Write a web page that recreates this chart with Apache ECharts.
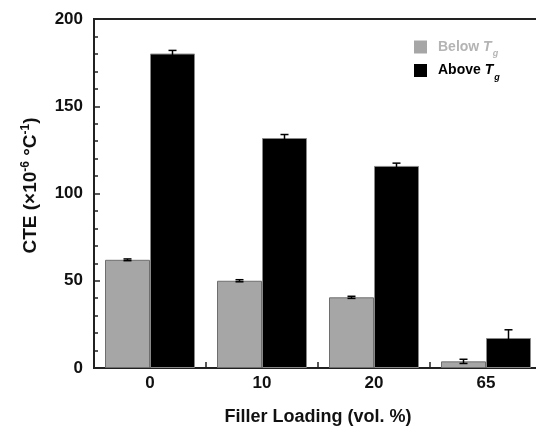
<!DOCTYPE html>
<html><head><meta charset="utf-8">
<script src="https://cdn.jsdelivr.net/npm/echarts@6/dist/echarts.min.js"></script>
<style>html,body{margin:0;padding:0;background:#fff;overflow:hidden;width:536px;height:431px}#c{width:550px;height:431px}</style>
</head><body><div id="c"></div>
<script>
const categories = ['0', '10', '20', '65'];
const belowTg = [62, 50, 40.5, 3.8];
const belowErr = [0.5, 0.6, 0.6, 1.2];
const aboveTg = [180.2, 131.8, 115.8, 17.2];
const aboveErr = [1.8, 2.0, 1.6, 4.7];
const seriesNames = ['Below Tg', 'Above Tg'];

const FONT = 'Liberation Sans, Arial, sans-serif';
const BAR_W = 45;

function errData(vals, errs) {
  return vals.map((v, i) => [i, v - errs[i], v + errs[i]]);
}
function errRender(side) {
  return function (params, api) {
    const i = api.value(0);
    const lo = api.coord([i, api.value(1)]);
    const hi = api.coord([i, api.value(2)]);
    const x = lo[0] + side * BAR_W / 2;
    const cap = 4;
    const st = { stroke: '#000', lineWidth: 1.5 };
    return { type: 'group', children: [
      { type: 'line', shape: { x1: x, y1: lo[1], x2: x, y2: hi[1] }, style: st },
      { type: 'line', shape: { x1: x - cap, y1: hi[1], x2: x + cap, y2: hi[1] }, style: st },
      { type: 'line', shape: { x1: x - cap, y1: lo[1], x2: x + cap, y2: lo[1] }, style: st }
    ]};
  };
}

const chart = echarts.init(document.getElementById('c'), null, { renderer: 'canvas' });
const sub = { fontWeight: 'bold', fontStyle: 'italic', fontSize: 9, fontFamily: FONT, padding: [14, 0, 0, 1] };
chart.setOption({
  animation: false,
  backgroundColor: '#fff',
  textStyle: { fontFamily: FONT },
  grid: { left: 94, top: 19, width: 448, height: 350, show: true, borderColor: '#222', borderWidth: 2, backgroundColor: 'transparent' },
  legend: {
    orient: 'vertical', left: 409, top: 35, itemWidth: 13, itemHeight: 13, itemGap: 5,
    icon: 'rect', selectedMode: false,
    itemStyle: { borderWidth: 0 },
    data: seriesNames,
    formatter: function (name) {
      return name === seriesNames[0] ? '{bl|Below }{bT|T}{bg|g}' : '{al|Above }{aT|T}{ag|g}';
    },
    textStyle: {
      padding: [0, 0, 0, 6],
      rich: {
        bl: { color: '#b4b4b4', fontWeight: 'bold', fontSize: 14, fontFamily: FONT },
        bT: { color: '#b4b4b4', fontWeight: 'bold', fontStyle: 'italic', fontSize: 14, fontFamily: FONT },
        bg: Object.assign({ color: '#b4b4b4' }, sub),
        al: { color: '#000', fontWeight: 'bold', fontSize: 14, fontFamily: FONT },
        aT: { color: '#000', fontWeight: 'bold', fontStyle: 'italic', fontSize: 14, fontFamily: FONT },
        ag: Object.assign({ color: '#000' }, sub)
      }
    }
  },
  xAxis: {
    type: 'category', data: categories,
    name: 'Filler Loading (vol. %)', nameLocation: 'middle', nameGap: 40,
    nameTextStyle: { fontSize: 18, fontWeight: 'bold', color: '#111', fontFamily: FONT },
    axisLine: { lineStyle: { color: '#222', width: 1.5 } },
    axisTick: { show: true, inside: true, length: 6, lineStyle: { color: '#222', width: 1.5 } },
    axisLabel: { fontSize: 17, fontWeight: 'bold', color: '#111', margin: 7, fontFamily: FONT },
    splitLine: { show: false }
  },
  yAxis: {
    type: 'value', min: 0, max: 200, interval: 50,
    name: 'CTE (×10{sup|-6} °C{sup|-1})', nameLocation: 'middle', nameGap: 53, nameRotate: 90,
    nameTextStyle: { fontSize: 19, fontWeight: 'bold', color: '#111', fontFamily: FONT, padding: [0, 0, 0, 16],
      rich: { sup: { fontSize: 12, fontWeight: 'bold', color: '#111', fontFamily: FONT, padding: [0, 0, 9, 0] } } },
    axisLine: { show: true, lineStyle: { color: '#222', width: 1.5 } },
    axisTick: { show: true, inside: true, length: 6, lineStyle: { color: '#222', width: 1.5 } },
    minorTick: { show: true, splitNumber: 5, length: 4, lineStyle: { color: '#222', width: 1.5 } },
    axisLabel: { fontSize: 17, fontWeight: 'bold', color: '#111', margin: 11, fontFamily: FONT },
    splitLine: { show: false }
  },
  series: [
    { name: seriesNames[0], type: 'bar', data: belowTg, barWidth: BAR_W, barGap: '0%',
      itemStyle: { color: '#a6a6a6', borderColor: '#6e6e6e', borderWidth: 1 } },
    { name: seriesNames[1], type: 'bar', data: aboveTg, barWidth: BAR_W, barGap: '0%',
      itemStyle: { color: '#000', borderColor: '#888', borderWidth: 1 } },
    { type: 'custom', renderItem: errRender(-1), data: errData(belowTg, belowErr), z: 5, silent: true },
    { type: 'custom', renderItem: errRender(1), data: errData(aboveTg, aboveErr), z: 5, silent: true }
  ]
});
</script></body></html>
